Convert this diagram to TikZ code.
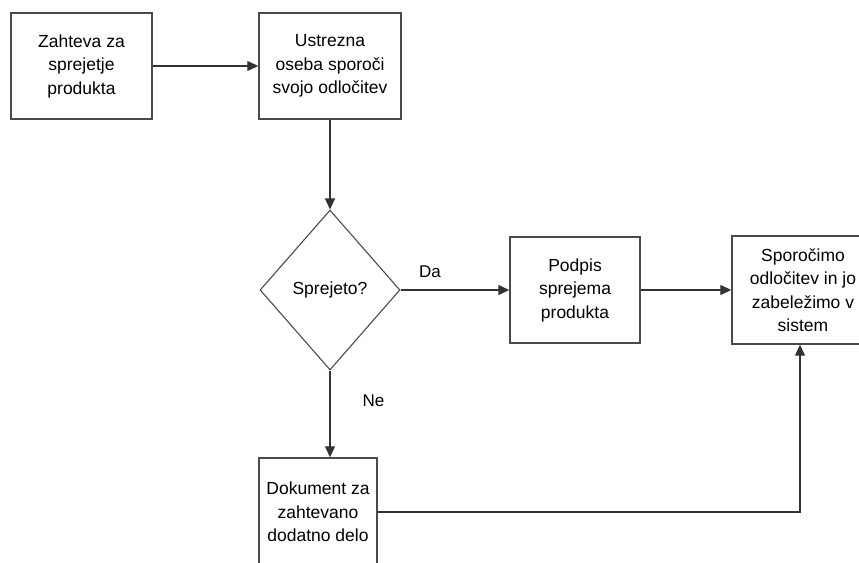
\documentclass[tikz,border=0pt]{standalone}
\usepackage{fontspec}
\setmainfont{Liberation Sans}
\usetikzlibrary{arrows.meta,shapes.geometric}
\definecolor{linec}{HTML}{333333}
\definecolor{boxc}{HTML}{4A4A4A}
\begin{document}
\begin{tikzpicture}[x=1pt,y=-1pt,
  box/.style={draw=boxc,line width=1.4pt,align=center,inner sep=0pt,
    font=\fontsize{17.5}{23.5}\selectfont,text=black},
  dec/.style={draw=boxc,line width=1.1pt,diamond,inner sep=0pt,
    minimum width=140pt,minimum height=160pt,
    font=\fontsize{17.5}{23.5}\selectfont,text=black},
  lbl/.style={font=\fontsize{17}{20}\selectfont,text=black,inner sep=0pt},
  arr/.style={draw=linec,line width=1.3pt,-{Triangle[length=11pt,width=10pt]}}]
\useasboundingbox (0,0) rectangle (859,562);
\node[box,minimum width=141pt,minimum height=106pt] (b1) at (81.5,66)
  {Zahteva za\\sprejetje\\produkta};
\node[box,minimum width=142pt,minimum height=106pt] (b2) at (330,66)
  {Ustrezna\\oseba sporoči\\svojo odločitev};
\node[dec] (d) at (330,290) {Sprejeto?};
\node[box,minimum width=130pt,minimum height=106pt] (b3) at (575,290)
  {Podpis\\sprejema\\produkta};
\node[box,minimum width=142pt,minimum height=108pt] (b4) at (803,290)
  {Sporočimo\\odločitev in jo\\zabeležimo v\\sistem};
\node[box,minimum width=118pt,minimum height=108pt] (b5) at (318,512)
  {Dokument za\\zahtevano\\dodatno delo};
\draw[arr] (b1) -- (b2);
\draw[arr] (b2) -- (d);
\draw[arr] (d) -- (b3) node[lbl,pos=0.27,above=12pt] (da) {Da};
\draw[arr] (d.south) -- (d.south |- b5.north) node[lbl,pos=0.35,right=32pt] (ne) {Ne};
\draw[arr] (b3) -- (b4);
\draw[arr] (b5.east) -| ([xshift=-3pt]b4.south);
\end{tikzpicture}
\end{document}
